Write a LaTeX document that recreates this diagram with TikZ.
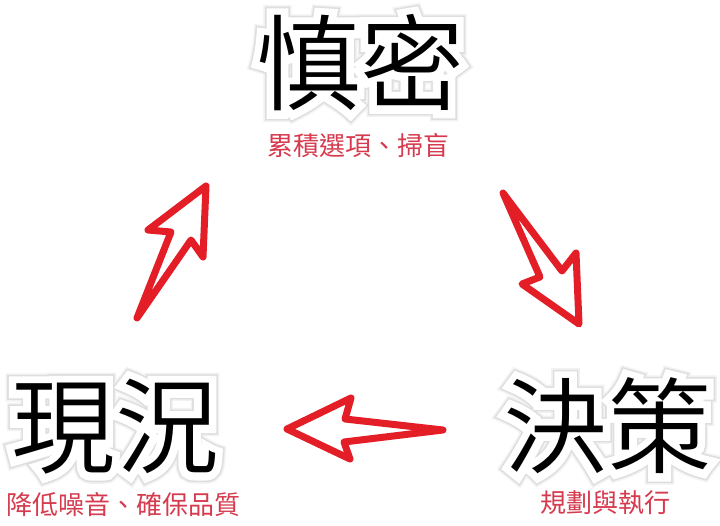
\documentclass[tikz,border=0pt]{standalone}
\usepackage{fontspec}
\setmainfont{Noto Sans CJK TC}
\newfontfamily\cjkmain{Noto Sans CJK TC}[UprightFont=* DemiLight]
\newfontfamily\cjksub{Noto Sans CJK TC}
\newfontfamily\cjkhaloA[FakeBold=20]{Noto Sans CJK TC}
\newfontfamily\cjkhaloB[FakeBold=17]{Noto Sans CJK TC}
\newfontfamily\cjkhaloC[FakeBold=14]{Noto Sans CJK TC}
\definecolor{subred}{RGB}{214,58,78}
\definecolor{arrowred}{RGB}{228,30,38}
\definecolor{haloouter}{RGB}{242,242,242}
\definecolor{halomid}{RGB}{222,222,222}
\newcommand\halotext[1]{\rlap{\color{haloouter}\cjkhaloA #1}\rlap{\color{halomid}\cjkhaloB #1}\rlap{\color{white}\cjkhaloC #1}{\color{black}\cjkmain #1}}
\tikzset{
  bigword/.style={inner sep=0pt, font=\fontsize{104}{104}\selectfont},
  subword/.style={inner sep=0pt, text=subred, font=\cjksub\fontsize{26}{26}\selectfont},
  sketcharrow/.style={draw=arrowred, line width=7pt, line join=round, line cap=round, fill=white}
}
\begin{document}
\begin{tikzpicture}[x=1pt,y=-1pt]
\useasboundingbox (0,0) rectangle (720,526);
\fill[white] (0,0) rectangle (720,526);
% words
\node[bigword] (top) at (360,63) {\halotext{慎密}};
\node[subword] (topsub) at (358,146) {累積選項、掃盲};
\node[bigword] (left) at (115,427) {\halotext{現況}};
\node[subword] (leftsub) at (123,505) {降低噪音、確保品質};
\node[bigword] (right) at (607,426) {\halotext{決策}};
\node[subword] (rightsub) at (605,503) {規劃與執行};
% up arrow (現況 -> 慎密)
\coordinate (ua1) at (137,318);
\coordinate (ua2) at (171,232);
\coordinate (ua3) at (148,230);
\coordinate (ua4) at (206,186);
\coordinate (ua5) at (203,257);
\coordinate (ua6) at (191,240);
\draw[sketcharrow] (ua1) -- (ua2) -- (ua3) -- (ua4) -- (ua5) -- (ua6) -- cycle;
% down arrow (慎密 -> 決策)
\coordinate (da1) at (503,193);
\coordinate (da2) at (562,271);
\coordinate (da3) at (576,253);
\coordinate (da4) at (579,324);
\coordinate (da5) at (522,284);
\coordinate (da6) at (540,277);
\draw[sketcharrow] (da1) -- (da2) -- (da3) -- (da4) -- (da5) -- (da6) -- cycle;
% left arrow (決策 -> 現況)
\coordinate (la1) at (443,430);
\coordinate (la2) at (345,419);
\coordinate (la3) at (351,398);
\coordinate (la4) at (287,429);
\coordinate (la5) at (350,459);
\coordinate (la6) at (344,442);
\draw[sketcharrow] (la1) -- (la2) -- (la3) -- (la4) -- (la5) -- (la6) -- cycle;
\end{tikzpicture}
\end{document}
